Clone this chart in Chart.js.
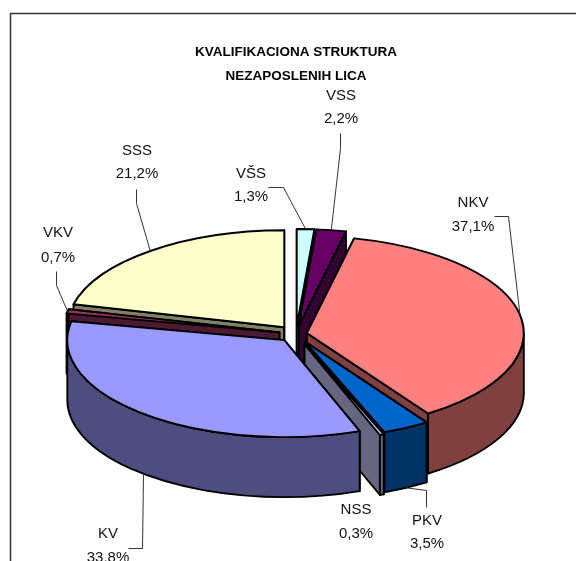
<!DOCTYPE html>
<html><head><meta charset="utf-8">
<script src="https://cdn.jsdelivr.net/npm/chart.js@4"></script>
<style>html,body{margin:0;padding:0;background:#fff;overflow:hidden}canvas{display:block}</style>
</head><body><canvas id="c" width="576" height="561"></canvas>
<script>
// Data (clockwise from 12 o'clock)
const categories = ['VŠS','VSS','NKV','PKV','NSS','KV','VKV','SSS'];
const shares = [1.3,2.2,37.1,3.5,0.3,33.8,0.7,21.2];
const titleLines = ['KVALIFIKACIONA STRUKTURA','NEZAPOSLENIH LICA'];
// Styles
const faceColors = ['#CCFFFF','#660066','#FF8080','#0066CC','#CCCCFF','#9999FF','#993366','#FFFFCC'];
const wallColors = ['#668080','#330033','#804040','#003366','#666680','#4D4D80','#4D1A33','#808066'];
const explode = [18,18,11,20,24,18,17,19];
const paintOrder = [0,1,7,2,6,3,4,5];
const SQUASH = 0.447, DEPTH = 60, RADIUS = 217;
// Label layout: text centre [x, yLine1, yLine2], leader knees, leader ends on the wall bottom?
const labelAt = [[251,174,197],[341,96,119],[473,203,227],[427,521,544],[356,510,534],[108,534,558],[58,233,258],[137,151,174]];
const leaderKnees = [[[268,187],[283,187]],[[340,133],[340,148]],[[494,216],[508,216]],[[426,507],[426,490]],[],[[128,548],[142,548]],[[56,271],[56,285]],[[136,189],[136,203]]];
const leaderOnWall = [false,false,false,true,false,true,false,false];

const pie3d = {
  id:'pie3d',
  beforeDatasetsDraw(chart){
    const ctx = chart.ctx, arcs = chart.getDatasetMeta(0).data;
    const geo = a => {
      const i = arcs.indexOf(a), mid = (a.startAngle+a.endAngle)/2, e = explode[i];
      return {x:a.x+Math.cos(mid)*e, y:a.y+Math.sin(mid)*e*SQUASH, r:a.outerRadius, ry:a.outerRadius*SQUASH, s:a.startAngle, t:a.endAngle, mid};
    };
    const pt = (g,ang,d=0)=>[g.x+Math.cos(ang)*g.r, g.y+Math.sin(ang)*g.ry+d];
    const finish = (fill)=>{ctx.fillStyle=fill;ctx.fill();ctx.strokeStyle='#000';ctx.lineWidth=1.9;ctx.lineJoin='round';ctx.stroke();};
    paintOrder.forEach(i=>{
      const a = arcs[i], g = geo(a), col = wallColors[i];
      // radial cut faces
      [g.s,g.t].forEach(ang=>{
        const p = pt(g,ang);
        ctx.beginPath();ctx.moveTo(g.x,g.y);ctx.lineTo(p[0],p[1]);ctx.lineTo(p[0],p[1]+DEPTH);ctx.lineTo(g.x,g.y+DEPTH);ctx.closePath();
        finish(col);
      });
      // outer wall: part of rim facing the viewer
      [[g.s,g.t],[g.s-2*Math.PI,g.t-2*Math.PI]].forEach(([s,t])=>{
        const u = Math.max(s,0), v = Math.min(t,Math.PI);
        if(v<=u) return;
        ctx.beginPath();
        ctx.ellipse(g.x,g.y,g.r,g.ry,0,u,v,false);
        ctx.ellipse(g.x,g.y+DEPTH,g.r,g.ry,0,v,u,true);
        ctx.closePath();
        finish(col);
      });
      // top face, drawn by the library's arc under a squash transform
      ctx.save();
      ctx.translate(g.x-a.x,g.y);ctx.scale(1,SQUASH);ctx.translate(0,-a.y);
      a.draw(ctx);
      ctx.restore();
      ctx.beginPath();
      ctx.moveTo(g.x,g.y);
      ctx.ellipse(g.x,g.y,g.r,g.ry,0,g.s,g.t,false);
      ctx.closePath();
      ctx.strokeStyle='#000';ctx.lineWidth=1.9;ctx.lineJoin='round';ctx.stroke();
    });
    // leaders and labels
    ctx.strokeStyle='#333';ctx.lineWidth=1;ctx.lineJoin='miter';
    arcs.forEach((a,i)=>{
      const k = leaderKnees[i]; if(!k.length) return;
      const g = geo(a), e = pt(g,g.mid,leaderOnWall[i]?DEPTH:0);
      ctx.beginPath();ctx.moveTo(k[0][0]+.5,k[0][1]+.5);ctx.lineTo(k[1][0]+.5,k[1][1]+.5);ctx.lineTo(e[0],e[1]);ctx.stroke();
    });
    ctx.fillStyle='#111';ctx.font='15px "Liberation Sans", Arial, sans-serif';ctx.textAlign='center';ctx.textBaseline='middle';
    categories.forEach((c,i)=>{
      const [x,y1,y2]=labelAt[i];
      ctx.fillText(c,x,y1);
      ctx.fillText(shares[i].toFixed(1).replace('.',',')+'%',x,y2);
    });
    return false;
  }
};
const frame = {
  id:'frame',
  beforeDraw(chart){
    const ctx = chart.ctx;
    ctx.save();ctx.strokeStyle='#333';ctx.lineWidth=1.5;
    ctx.beginPath();ctx.moveTo(10.5,chart.height+5);ctx.lineTo(10.5,13.5);ctx.lineTo(chart.width+5,13.5);ctx.stroke();
    ctx.restore();
  }
};
new Chart(document.getElementById('c'),{
  type:'pie',
  data:{labels:categories,datasets:[{data:shares,backgroundColor:faceColors,borderWidth:0,radius:RADIUS}]},
  options:{
    responsive:false,animation:false,
    layout:{padding:{left:16,right:0,top:0,bottom:0}},
    plugins:{
      legend:{display:false},
      title:{display:true,text:titleLines,color:'#000',font:{family:'"Liberation Sans", Arial, sans-serif',size:13.5,weight:'bold',lineHeight:24/13.5},padding:{top:40,bottom:19}}
    }
  },
  plugins:[frame,pie3d]
});
</script></body></html>
